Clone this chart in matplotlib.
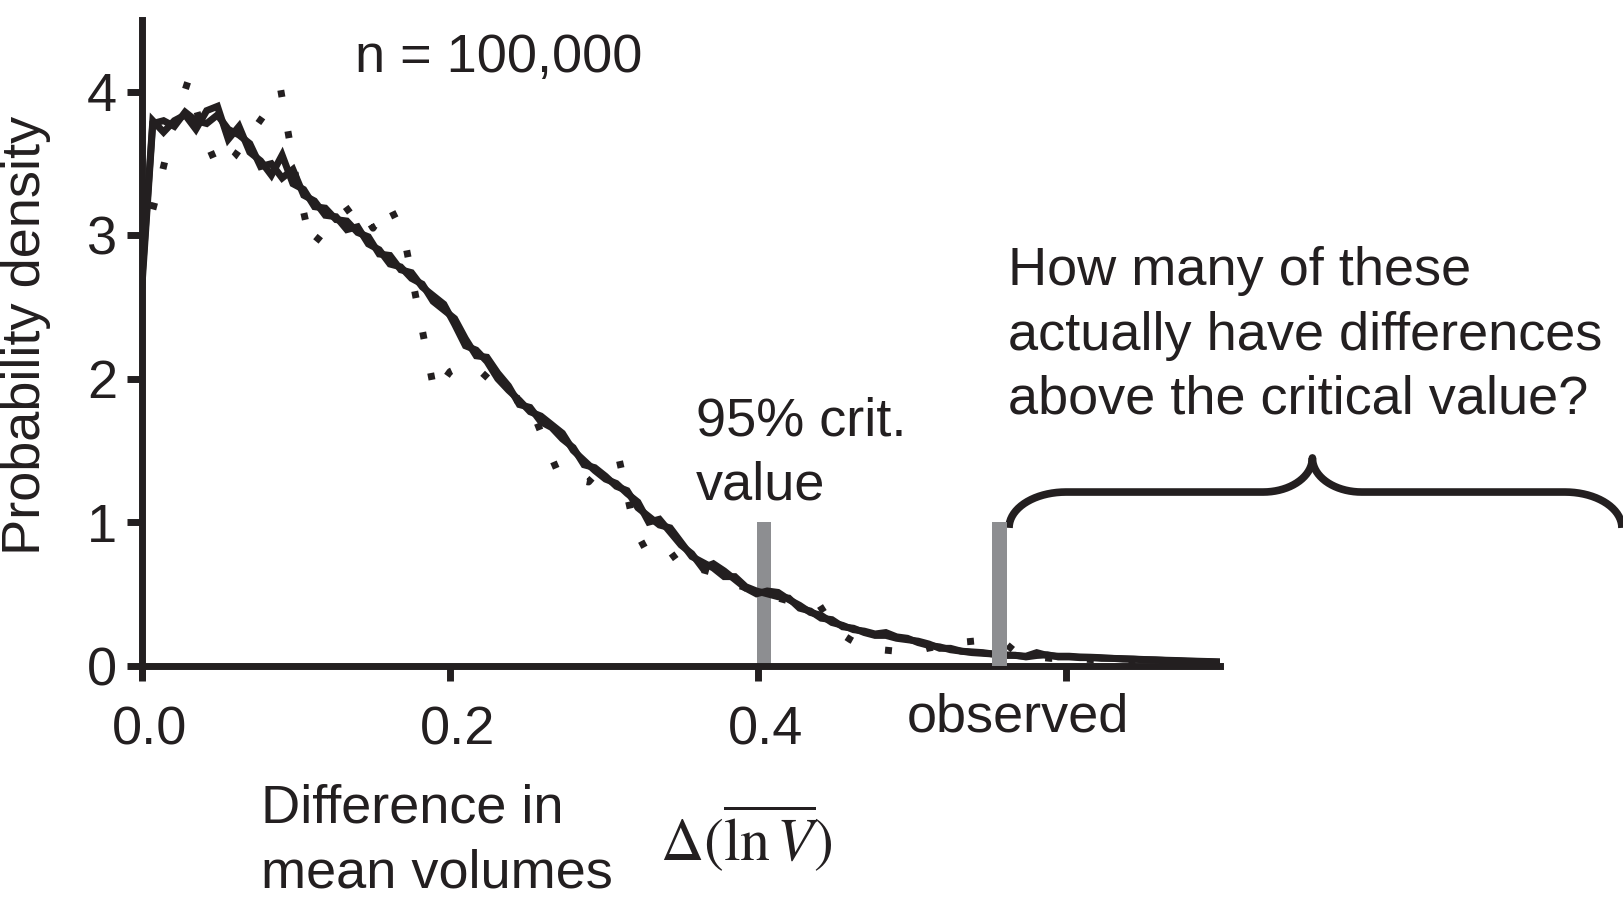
import numpy as np
import matplotlib
matplotlib.use('Agg')
import matplotlib.pyplot as plt
from matplotlib.transforms import ScaledTranslation

plt.rcParams['font.family'] = ['Liberation Sans', 'DejaVu Sans']
plt.rcParams['mathtext.fontset'] = 'stix'

# densidade dos dois histogramas com 100.000 reamostragens (bins de 0.007)
bin_width = 0.007
dens_a = [2.70, 3.80, 3.72, 3.80, 3.84, 3.74, 3.87, 3.90, 3.67, 3.76,
          3.58, 3.52, 3.42, 3.56, 3.36, 3.32, 3.20, 3.19, 3.11, 3.10,
          3.02, 2.99, 2.87, 2.86, 2.76, 2.74, 2.64, 2.58, 2.52, 2.38,
          2.23, 2.20, 2.12, 2.00, 1.92, 1.85, 1.77, 1.74, 1.68, 1.62,
          1.50, 1.43, 1.36, 1.30, 1.27, 1.20, 1.14, 1.00, 1.02, 0.93,
          0.84, 0.78, 0.68, 0.71, 0.66, 0.60, 0.54, 0.50, 0.52, 0.51,
          0.46, 0.42, 0.37, 0.35, 0.30, 0.28, 0.25, 0.24, 0.22, 0.23,
          0.20, 0.19, 0.16, 0.14, 0.13, 0.11, 0.10, 0.09, 0.085, 0.08,
          0.075, 0.07, 0.065, 0.09, 0.07, 0.065, 0.065, 0.06, 0.058, 0.055,
          0.05, 0.048, 0.045, 0.042, 0.04, 0.037, 0.035, 0.032, 0.03, 0.028, 0.025]
dens_b = [2.65, 3.78, 3.80, 3.76, 3.86, 3.80, 3.78, 3.84, 3.74, 3.70,
          3.64, 3.48, 3.50, 3.40, 3.46, 3.28, 3.24, 3.14, 3.13, 3.04,
          3.06, 2.94, 2.90, 2.80, 2.78, 2.70, 2.66, 2.54, 2.48, 2.42,
          2.28, 2.16, 2.15, 2.04, 1.95, 1.82, 1.80, 1.70, 1.66, 1.58,
          1.52, 1.40, 1.38, 1.32, 1.25, 1.22, 1.10, 1.04, 0.98, 0.96,
          0.86, 0.76, 0.72, 0.68, 0.62, 0.62, 0.55, 0.52, 0.50, 0.48,
          0.47, 0.40, 0.38, 0.33, 0.32, 0.27, 0.26, 0.23, 0.21, 0.21,
          0.19, 0.18, 0.17, 0.15, 0.12, 0.12, 0.10, 0.095, 0.09, 0.08,
          0.07, 0.072, 0.06, 0.07, 0.075, 0.06, 0.06, 0.055, 0.055, 0.05,
          0.05, 0.045, 0.044, 0.04, 0.038, 0.035, 0.033, 0.03, 0.028, 0.026, 0.024]

# curva pontilhada (amostra menor, bins de 0.01)
bin_width_c = 0.01
dens_c = [2.90, 3.30, 3.75, 4.08, 3.70, 3.45, 3.55, 3.70, 3.85, 4.02,
          3.40, 2.92, 3.05, 3.15, 3.23, 3.05, 3.22, 3.00, 2.45, 1.90,
          2.05, 2.10, 2.05, 1.95, 1.85, 1.87, 1.60, 1.35, 1.30, 1.28,
          1.40, 1.43, 0.95, 0.75, 0.72, 0.80, 0.68, 0.65, 0.58, 0.55,
          0.50, 0.48, 0.45, 0.44, 0.42, 0.25, 0.18, 0.12, 0.11, 0.10,
          0.09, 0.12, 0.14, 0.16, 0.17, 0.18, 0.16, 0.07, 0.06, 0.05,
          0.05, 0.045, 0.04, 0.035, 0.03, 0.03, 0.025, 0.02, 0.02, 0.02, 0.02]

valor_critico = 0.404
observado = 0.557
altura_barra = 1.0

x_a = np.arange(len(dens_a)) * bin_width
x_c = np.arange(len(dens_c)) * bin_width_c

preto = '#231f20'
cinza = '#8d8e91'
fs = 39

fig = plt.figure(figsize=(16.23, 8.98), dpi=100)
ax = fig.add_axes([142 / 1623, 0.2477, (1220 - 142) / 1623, 0.7297])

ax.bar([valor_critico], [altura_barra], width=0.0095, color=cinza, zorder=1)
ax.plot(x_a, dens_a, color=preto, lw=5, solid_joinstyle='miter', zorder=2)
ax.plot(x_a, dens_b, color=preto, lw=5, solid_joinstyle='miter', zorder=2)
ax.plot(x_c, dens_c, color=preto, lw=5, linestyle=(0, (1, 5)),
        dash_capstyle='butt', zorder=2)
ax.bar([observado], [altura_barra], width=0.0095, color=cinza, zorder=3)

# chave sobre a cauda acima do valor observado
t = np.linspace(np.pi, np.pi / 2, 20)
p1 = (0.600 + 0.037 * np.cos(t), 0.96 + 0.25 * np.sin(t))
t = np.linspace(-np.pi / 2, 0, 20)
p2 = (0.728 + 0.032 * np.cos(t), 1.448 + 0.238 * np.sin(t))
t = np.linspace(np.pi, 1.5 * np.pi, 20)
p3 = (0.792 + 0.032 * np.cos(t), 1.448 + 0.238 * np.sin(t))
t = np.linspace(np.pi / 2, 0, 20)
p4 = (0.924 + 0.037 * np.cos(t), 0.96 + 0.25 * np.sin(t))
bx = np.concatenate([p1[0], p2[0], p3[0], p4[0]])
by = np.concatenate([p1[1], p2[1], p3[1], p4[1]])
ax.plot(bx, by, color=preto, lw=5.5, clip_on=False, solid_capstyle='butt')

ax.set_xlim(0, 0.70)
ax.set_ylim(-0.07, 4.5)
ax.spines['top'].set_visible(False)
ax.spines['right'].set_visible(False)
ax.spines['bottom'].set_position(('data', 0))
for s in ['left', 'bottom']:
    ax.spines[s].set_linewidth(5)
    ax.spines[s].set_color(preto)

ax.set_xticks([0.0, 0.2, 0.4, 0.6])
ax.set_xticklabels(['0.0', '0.2', '0.4', ''])
ax.set_yticks([0, 1, 2, 3, 4])
ax.tick_params(axis='both', direction='out', length=11, width=5, color=preto,
               labelsize=fs, labelcolor=preto)
ax.tick_params(axis='x', pad=18)
ax.tick_params(axis='y', pad=7)
desloca = ScaledTranslation(0.08, 0, fig.dpi_scale_trans)
for lab in ax.get_xticklabels():
    lab.set_transform(lab.get_transform() + desloca)

def fx(px):
    return px / 1623

def fy(py):
    return 1 - py / 898

fig.text(fx(26), fy(335), 'Probability density', rotation=90, fontsize=fs,
         ha='center', va='center', color=preto)
fig.text(fx(355), fy(72), 'n = 100,000', fontsize=fs, va='baseline', color=preto)
fig.text(fx(696), fy(500), '95% crit.\nvalue', fontsize=fs, va='baseline',
         linespacing=1.37, color=preto)
fig.text(fx(907), fy(731), 'observed', fontsize=fs, va='baseline', color=preto)
fig.text(fx(1008), fy(414), 'How many of these\nactually have differences\nabove the critical value?',
         fontsize=fs, va='baseline', linespacing=1.37, color=preto)
fig.text(fx(261), fy(887), 'Difference in\nmean volumes', fontsize=fs,
         va='baseline', linespacing=1.37, color=preto)
fig.text(fx(660), fy(861), r'$\Delta(\overline{\ln V})$', fontsize=43,
         va='baseline', color=preto)

plt.savefig('out.png', dpi=100)
